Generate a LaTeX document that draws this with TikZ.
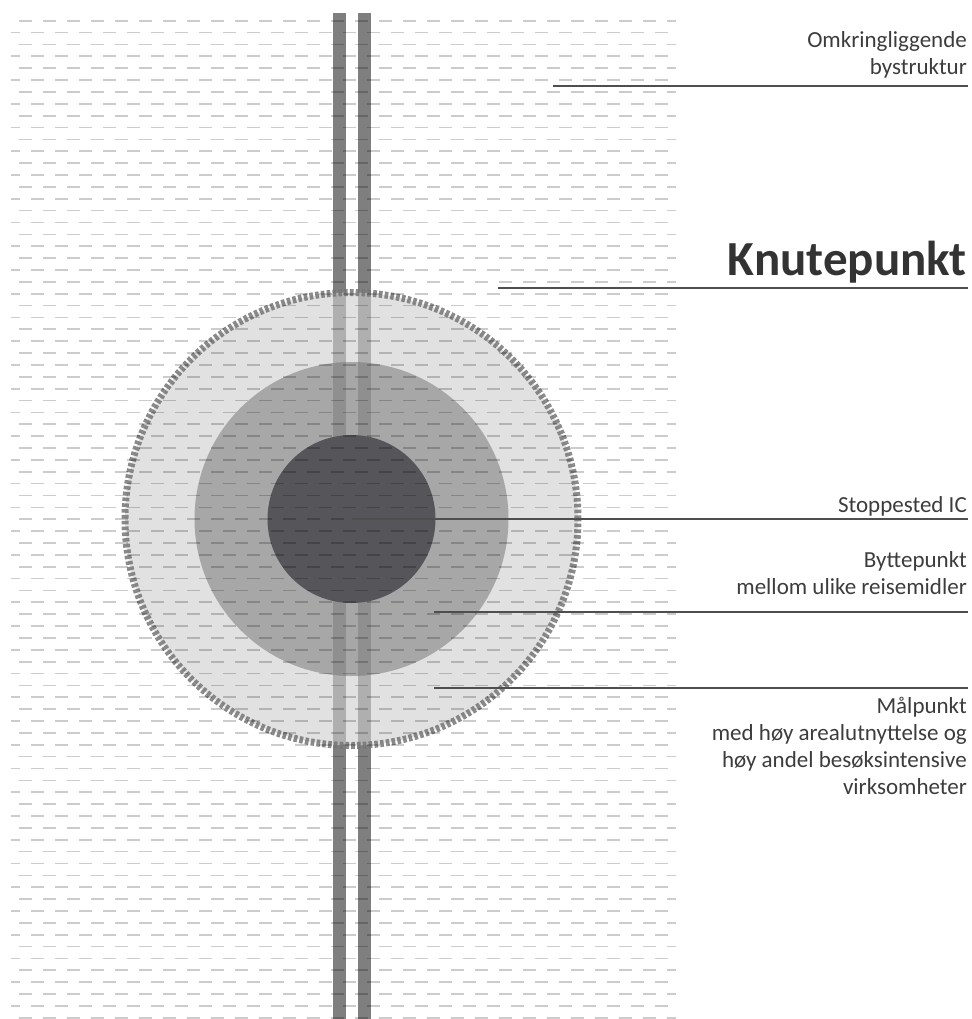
\documentclass[tikz,border=0pt]{standalone}
\usepackage{fontspec}
\setmainfont{Carlito}
\usepackage{xcolor}
\usepackage{tikz}
\usetikzlibrary{positioning,calc}

\definecolor{trackgray}{HTML}{7F7F7F}
\definecolor{ringgray}{HTML}{767676}
\definecolor{outergray}{HTML}{CECECE}
\definecolor{middlegray}{HTML}{707070}
\definecolor{innergray}{HTML}{56565A}
\definecolor{leadgray}{HTML}{4E4E4E}
\definecolor{textgray}{HTML}{3C3C3C}

\begin{document}
\begin{tikzpicture}[
    x=1pt, y=-1pt,
    every node/.style={font=\fontsize{23}{27}\selectfont, text=textgray, inner sep=0pt},
    textlabel/.style={
        align=right,
        anchor=base east
    },
    leader/.style={
        draw=leadgray,
        line width=1.3pt
    },
    track/.style={
        fill=trackgray
    },
    hatchrow/.style={
        draw=black,
        draw opacity=0.2,
        line width=1.7pt,
        dash pattern=on 12.5pt off 11.5pt
    }
]

\useasboundingbox (0,0) rectangle (971,1019);

% ==========================================================
% RAIL TRACKS
% ==========================================================

\fill[track] (333,13) rectangle (345.5,1019);
\fill[track] (358,13) rectangle (370.5,1019);

% ==========================================================
% CIRCLES
% ==========================================================

\coordinate (centre) at (351.5,519);

\fill[outergray, fill opacity=0.62] (centre) circle[radius=226.5pt];
\draw[ringgray, draw opacity=0.85, line width=7pt,
      dash pattern=on 3.6pt off 2.2pt] (centre) circle[radius=226.5pt];
\fill[middlegray, fill opacity=0.5] (centre) circle[radius=157pt];
\fill[innergray] (centre) circle[radius=84pt];

% ==========================================================
% BACKGROUND HATCHING
% ==========================================================

\foreach \k in {0,...,84}{
    \pgfmathsetmacro{\rowy}{20.7+11.87*\k}
    \ifodd\k
        \draw[hatchrow, dash phase=4pt] (11,\rowy) -- (676,\rowy);
    \else
        \draw[hatchrow, dash phase=16pt] (11,\rowy) -- (676,\rowy);
    \fi
}

% ==========================================================
% LABELS (base = last line)
% ==========================================================

\node[textlabel] (bystruktur) at (967,75)
{Omkringliggende\\bystruktur};

\node[textlabel, font=\fontsize{49}{53}\selectfont\bfseries, text=black!80] (knutepunkt) at (967,275)
{Knutepunkt};

\node[textlabel] (stoppested) at (967,512)
{Stoppested IC};

\node[textlabel] (byttepunkt) at (967,594)
{Byttepunkt\\mellom ulike reisemidler};

\node[textlabel] (maalpunkt) at (967,794)
{Målpunkt\\med høy arealutnyttelse og\\høy andel besøksintensive\\virksomheter};

% ==========================================================
% LEADER LINES
% ==========================================================

\coordinate (bystrukturstart) at (553,86);
\coordinate (bystrukturend) at (968,86);
\coordinate (knutestart) at (498,288);
\coordinate (knuteend) at (968,288);
\coordinate (stoppend) at (968,519);
\coordinate (byttestart) at (434,612);
\coordinate (bytteend) at (968,612);
\coordinate (maalstart) at (434,688);
\coordinate (maalend) at (968,688);

\draw[leader] (bystrukturstart) -- (bystrukturend);
\draw[leader] (knutestart) -- (knuteend);
\draw[leader] (centre) -- (stoppend);
\draw[leader] (byttestart) -- (bytteend);
\draw[leader] (maalstart) -- (maalend);

\end{tikzpicture}
\end{document}
